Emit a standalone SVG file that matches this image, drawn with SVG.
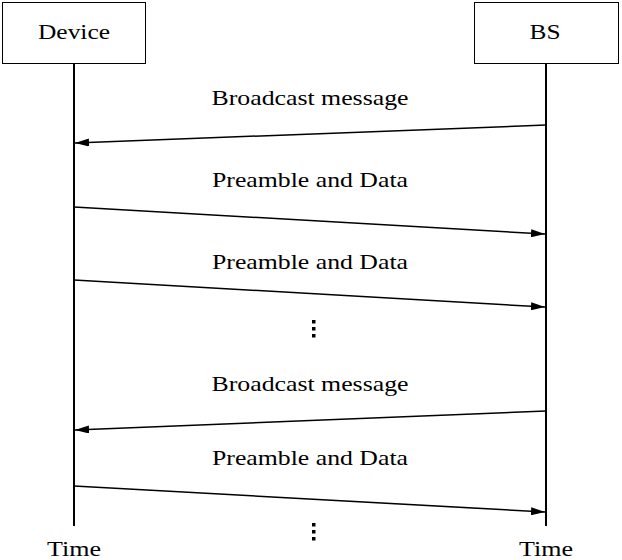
<svg xmlns="http://www.w3.org/2000/svg" width="622" height="560" viewBox="0 0 622 560">
<style>
text{font-family:"Liberation Serif","Times New Roman","DejaVu Serif",serif;font-size:22px;fill:#000;text-anchor:middle}
.box{fill:#fff;stroke:#000;stroke-width:1}
.life{stroke:#000;stroke-width:2}
.msg{stroke:#000;stroke-width:1.5;fill:none;marker-end:url(#ah)}
.dot{fill:#000}
</style>
<defs><marker id="ah" markerWidth="14" markerHeight="8" refX="14" refY="4" orient="auto" markerUnits="userSpaceOnUse"><path d="M0,0 L14,4 L0,8 z" fill="#000"/></marker></defs>
<g id="device"><rect class="box" x="2.5" y="2.5" width="143" height="61"/><text x="74" y="39" textLength="72" lengthAdjust="spacingAndGlyphs">Device</text><line class="life" x1="74" y1="64" x2="74" y2="526"/><text x="74" y="556" textLength="54" lengthAdjust="spacingAndGlyphs">Time</text></g>
<g id="bs"><rect class="box" x="474.5" y="2.5" width="144" height="61"/><text x="545" y="39" textLength="31" lengthAdjust="spacingAndGlyphs">BS</text><line class="life" x1="546" y1="64" x2="546" y2="526"/><text x="546" y="556" textLength="54" lengthAdjust="spacingAndGlyphs">Time</text></g>
<g id="connectors">
<line class="msg" x1="546" y1="125" x2="75" y2="143"/><text x="310" y="105" textLength="197" lengthAdjust="spacingAndGlyphs">Broadcast message</text>
<line class="msg" x1="74" y1="207" x2="545" y2="234"/><text x="310" y="187" textLength="196" lengthAdjust="spacingAndGlyphs">Preamble and Data</text>
<line class="msg" x1="74" y1="280" x2="545" y2="307"/><text x="310" y="269" textLength="196" lengthAdjust="spacingAndGlyphs">Preamble and Data</text>
<line class="msg" x1="546" y1="411" x2="75" y2="430"/><text x="310" y="391" textLength="197" lengthAdjust="spacingAndGlyphs">Broadcast message</text>
<line class="msg" x1="74" y1="486" x2="545" y2="512"/><text x="310" y="465" textLength="196" lengthAdjust="spacingAndGlyphs">Preamble and Data</text>
</g>
<g id="dots1" class="dot"><rect x="312" y="320" width="3.5" height="3.5"/><rect x="312" y="327" width="3.5" height="3.5"/><rect x="312" y="334" width="3.5" height="3.5"/></g>
<g id="dots2" class="dot"><rect x="312" y="523" width="3.5" height="3.5"/><rect x="312" y="530" width="3.5" height="3.5"/><rect x="312" y="537" width="3.5" height="3.5"/></g>
</svg>
